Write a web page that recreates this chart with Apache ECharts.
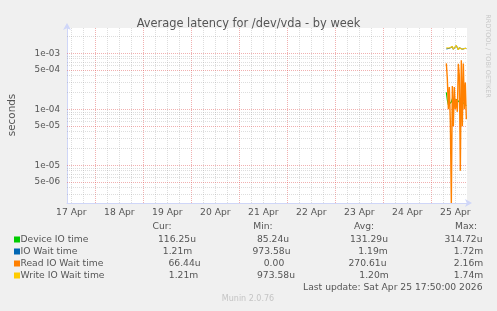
<!DOCTYPE html>
<html><head><meta charset="utf-8">
<script src="https://cdn.jsdelivr.net/npm/echarts@6/dist/echarts.min.js"></script>
<style>html,body{margin:0;padding:0;background:#f0f0f0}#c{width:497px;height:311px}</style>
</head><body><div id="c"></div>
<script>
// ---- data ----
const sampleTimes = ['07:30','08:00','08:30','09:00','09:30','10:00','10:30','11:00','11:30','12:00','12:30','13:00','13:30','14:00','14:30','15:00','15:30','16:00','16:30','17:00','17:30'];
const deviceIOTime = [2.0e-4,1.45e-4,1.2e-4,1.3e-4,1.25e-4,1.35e-4,1.55e-4,1.4e-4,1.3e-4,1.45e-4,1.5e-4,1.4e-4,1.5e-4,1.35e-4,1.4e-4,1.3e-4,1.35e-4,1.3e-4,1.25e-4,1.2e-4,1.1625e-4];
const ioWaitTime = [1.19e-3,1.17e-3,1.16e-3,1.23e-3,1.16e-3,1.2e-3,1.31e-3,1.18e-3,1.26e-3,1.19e-3,1.37e-3,1.28e-3,1.16e-3,1.26e-3,1.2e-3,1.3e-3,1.18e-3,1.25e-3,1.2e-3,1.23e-3,1.21e-3];
const readIOWaitTime = [6.6e-4,3.5e-4,1.0e-4,2.5e-4,6.0e-5,0,2.6e-4,5.0e-5,2.5e-4,1.0e-4,1.5e-4,9.0e-5,6.5e-4,4.0e-4,8.0e-6,7.5e-4,5.0e-5,6.6e-4,1.0e-4,3.0e-4,6.644e-5];
const writeIOWaitTime = [1.25e-3,1.22e-3,1.18e-3,1.24e-3,1.16e-3,1.2e-3,1.32e-3,1.18e-3,1.26e-3,1.19e-3,1.38e-3,1.28e-3,1.16e-3,1.26e-3,1.2e-3,1.3e-3,1.18e-3,1.25e-3,1.2e-3,1.23e-3,1.21e-3];
const seriesNames = ['Device IO time','IO Wait time','Read IO Wait time','Write IO Wait time'];
const seriesColors = ['#00CC00','#0066B3','#FF8000','#FFCC00'];
const dayLabels = ['17 Apr','18 Apr','19 Apr','20 Apr','21 Apr','22 Apr','23 Apr','24 Apr','25 Apr'];
const dayNumbers = [17,18,19,20,21,22,23,24,25];
const yTickValues = [1e-3,5e-4,1e-4,5e-5,1e-5,5e-6];
const yTickLabels = ['1e-03','5e-04','1e-04','5e-05','1e-05','5e-06'];
const statHeaders = ['Cur:','Min:','Avg:','Max:'];
const curStats = ['116.25u','1.21m','66.44u','1.21m'];
const minStats = ['85.24u','973.58u','0.00','973.58u'];
const avgStats = ['131.29u','1.19m','270.61u','1.20m'];
const maxStats = ['314.72u','1.72m','2.16m','1.74m'];
const lastUpdate = 'Last update: Sat Apr 25 17:50:00 2026';

// ---- helpers / layout ----
const T = (d, hh, mm) => Date.UTC(2026, 3, d, hh, mm);
const X_MIN = T(17, 9, 50), X_MAX = T(25, 17, 50);
const Y_MIN = 2.12e-6, Y_MAX = 2.83e-3;
const FONT = 'DejaVu Sans';
const TXT = '#555';
const GRID_GRAY = 'rgba(150,150,150,0.32)';
const GRID_RED = 'rgba(225,80,80,0.45)';

const times = sampleTimes.map(s => { const [h, m] = s.split(':').map(Number); return T(25, h, m); });
const pairs = (vals) => vals.map((v, i) => [times[i], v > 0 ? v : Y_MIN]);

// grid lines
const gridLines = [];
dayNumbers.forEach((d, i) => {
  [0, 6, 12, 18].forEach(h => {
    const t = T(d, h, 0);
    if (t <= X_MIN || t >= X_MAX) return;
    const item = { xAxis: t, lineStyle: { color: h === 0 ? GRID_RED : GRID_GRAY, type: [1, 1], width: 1 }, label: { show: false } };
    if (h === 12) item.label = { show: true, position: 'start', formatter: dayLabels[i], color: TXT, fontFamily: FONT, fontSize: 9.2, distance: 5 };
    gridLines.push(item);
  });
});
for (let e = -6; e <= -3; e++) {
  for (let m = 1; m <= 9; m++) {
    const v = m * Math.pow(10, e);
    if (v <= Y_MIN || v >= Y_MAX) continue;
    const major = (m === 1 || m === 5);
    const item = { yAxis: v, lineStyle: { color: major ? GRID_RED : GRID_GRAY, type: [1, 1], width: 1 }, label: { show: false } };
    const k = yTickValues.findIndex(x => Math.abs(x - v) / v < 1e-6);
    if (k >= 0) item.label = { show: true, position: 'start', formatter: yTickLabels[k], color: TXT, fontFamily: FONT, fontSize: 8.8, distance: 7 };
    gridLines.push(item);
  }
}

// legend/stat texts
const graphics = [];
const rowY = [239.5, 251.5, 263.5, 275.5];
const headerX = [162, 263, 364, 466];
const cellX = [
  [177, 273, 369, 463.5],
  [177.5, 271.5, 373, 468.5],
  [184.5, 274, 367.5, 468.5],
  [183.5, 276, 374, 468.5]
];
const txt = (text, x, y, align, size, fill, extra) => Object.assign({
  type: 'text', x, y, silent: true,
  style: { text, fill: fill || TXT, fontFamily: FONT, fontSize: size || 9.2, align: align || 'left', verticalAlign: 'middle', textAlign: align || 'left', textVerticalAlign: 'middle' }
}, extra || {});
statHeaders.forEach((h, j) => graphics.push(txt(h, headerX[j], 227, 'center')));
seriesNames.forEach((n, i) => {
  graphics.push({ type: 'rect', shape: { x: 14, y: rowY[i] - 3, width: 6, height: 6 }, style: { fill: seriesColors[i] }, silent: true });
  graphics.push(txt(n, 20.5, rowY[i], 'left'));
  [curStats, minStats, avgStats, maxStats].forEach((col, j) => graphics.push(txt(col[i], cellX[i][j], rowY[i], 'center')));
});
graphics.push(txt(lastUpdate, 482.5, 287.5, 'right'));
graphics.push(txt('Munin 2.0.76', 248, 299, 'center', 8, '#c4c4c4'));
graphics.push(txt('seconds', 12, 115, 'center', 10.4, TXT, { rotation: Math.PI / 2 }));
graphics.push(txt('RRDTOOL / TOBI OETIKER', 488, 56, 'center', 6.5, '#c8c8c8', { rotation: -Math.PI / 2 }));

const chart = echarts.init(document.getElementById('c'), null, { renderer: 'canvas' });
const lineSeries = seriesNames.map((name, i) => ({
  name, type: 'line', z: 5 + i,
  data: pairs([deviceIOTime, ioWaitTime, readIOWaitTime, writeIOWaitTime][i]),
  showSymbol: false, symbol: 'none', clip: true, animation: false,
  lineStyle: { color: seriesColors[i], width: i === 2 ? 1.4 : 1.1 },
  itemStyle: { color: seriesColors[i] }
}));
chart.setOption({
  animation: false,
  backgroundColor: '#f0f0f0',
  title: { text: 'Average latency for /dev/vda - by week', left: 'center', top: 14,
    textStyle: { fontFamily: FONT, fontSize: 11.4, fontWeight: 'normal', color: TXT } },
  grid: { left: 67, top: 28, width: 400, height: 175, show: true, backgroundColor: '#ffffff', borderWidth: 0 },
  xAxis: { type: 'time', min: X_MIN, max: X_MAX,
    axisLine: { show: true, lineStyle: { color: '#CFD6F8', width: 1 }, symbol: ['none', 'arrow'], symbolSize: [6, 7], symbolOffset: [0, 5] },
    axisTick: { show: false }, axisLabel: { show: false }, splitLine: { show: false } },
  yAxis: { type: 'log', logBase: 10, min: Y_MIN, max: Y_MAX,
    axisLine: { show: true, lineStyle: { color: '#CFD6F8', width: 1 }, symbol: ['none', 'arrow'], symbolSize: [6, 7], symbolOffset: [0, 5] },
    axisTick: { show: false }, axisLabel: { show: false }, splitLine: { show: false }, minorSplitLine: { show: false } },
  series: [{
    type: 'line', name: 'grid', data: [], z: 1, silent: true,
    markLine: { silent: true, symbol: 'none', animation: false, precision: 10, data: gridLines }
  }].concat(lineSeries),
  graphic: graphics
});
</script></body></html>
